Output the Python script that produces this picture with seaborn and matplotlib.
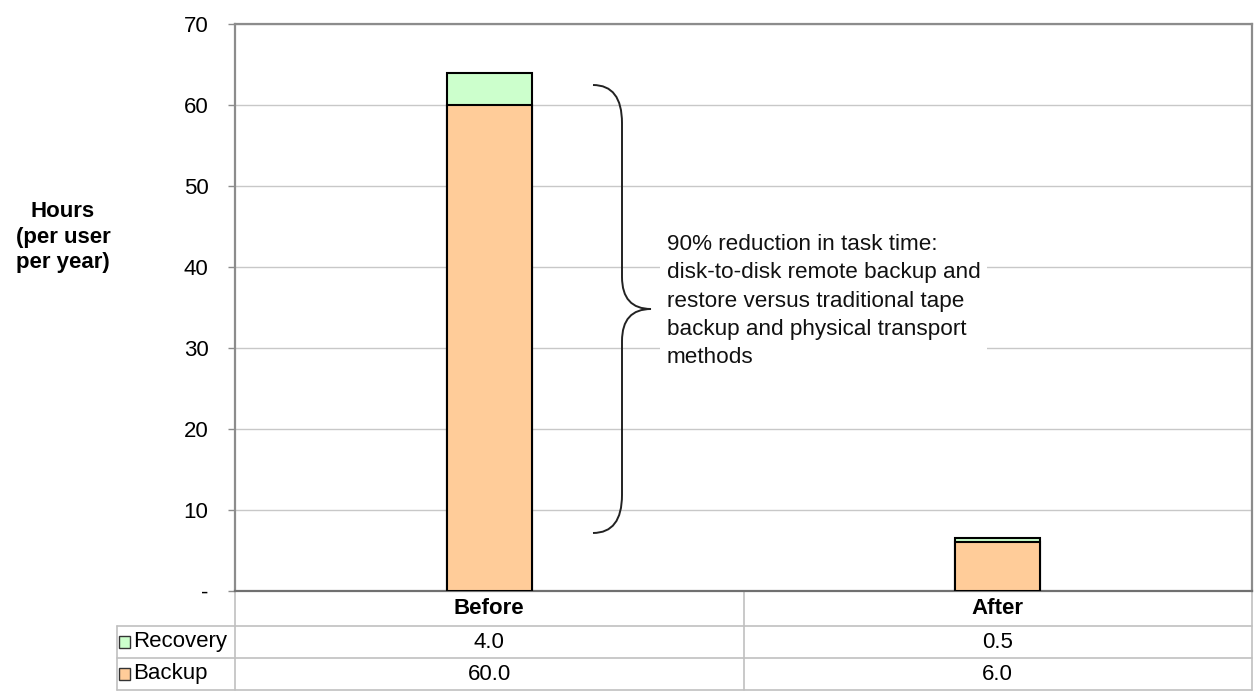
import matplotlib
matplotlib.use("Agg")
import matplotlib.pyplot as plt
from matplotlib.path import Path
from matplotlib.patches import PathPatch, Rectangle
import seaborn as sns

# Chart data
categories = ["Before", "After"]
series_names = ["Recovery", "Backup"]
recovery = [4.0, 0.5]
backup = [60.0, 6.0]
y_ticks = [0, 10, 20, 30, 40, 50, 60, 70]
y_tick_labels = ["-", "10", "20", "30", "40", "50", "60", "70"]
note = ("90% reduction in task time:\n"
        "disk-to-disk remote backup and\n"
        "restore versus traditional tape\n"
        "backup and physical transport\n"
        "methods")

COL_BACKUP = "#FFCC99"
COL_RECOVERY = "#CCFFCC"
GRID = "#c8c8c8"
FRAME = "#8c8c8c"
FS = 16

sns.set_theme(style="white")
plt.rcParams["font.family"] = ["Liberation Sans", "DejaVu Sans"]
plt.rcParams["text.color"] = "black"

W, H = 1255, 691
fig = plt.figure(figsize=(W / 100, H / 100), dpi=100)
L, R, T, B = 235, 1252, 24, 591
ax = fig.add_axes([L / W, 1 - B / H, (R - L) / W, (B - T) / H])

totals = [b + r for b, r in zip(backup, recovery)]
bar_w = 0.167
sns.barplot(x=categories, y=totals, color=COL_RECOVERY, width=bar_w,
            edgecolor="black", linewidth=1.5, saturation=1, ax=ax, zorder=3)
sns.barplot(x=categories, y=backup, color=COL_BACKUP, width=bar_w,
            edgecolor="black", linewidth=1.5, saturation=1, ax=ax, zorder=3)

ax.set_xlim(-0.5, len(categories) - 0.5)
ax.set_ylim(0, 70)
ax.set_yticks(y_ticks)
ax.set_yticklabels(y_tick_labels, fontsize=FS, color="black")
ax.set_xticks([])
ax.set_xlabel("")
ax.set_ylabel("")
ax.yaxis.grid(True, color=GRID, linewidth=1.0, zorder=0)
ax.set_axisbelow(True)
ax.tick_params(axis="y", which="both", left=True, length=5, width=1,
               color=FRAME, pad=14)
for side in ["left", "top", "right"]:
    ax.spines[side].set_color(FRAME)
    ax.spines[side].set_linewidth(1.6)
ax.spines["bottom"].set_color("#707070")
ax.spines["bottom"].set_linewidth(1.6)

# helpers: pixel -> axes fraction
def axx(px):
    return (px - L) / (R - L)

def axy(py):
    return (B - py) / (B - T)

# White panel behind the note (interrupts gridlines)
ax.add_patch(Rectangle((axx(660), axy(375)), axx(987) - axx(660),
                       axy(225) - axy(375), transform=ax.transAxes,
                       facecolor="white", edgecolor="none", zorder=1))
ax.text(axx(667), axy(301), note, transform=ax.transAxes, fontsize=16.2,
        ha="left", va="center", linespacing=1.45, color="#111111", zorder=4)

# Curly brace
pts = [(593, 85), (622, 85), (622, 123), (622, 277), (622, 309), (651, 309),
       (622, 309), (622, 341), (622, 495), (622, 533), (593, 533)]
codes = [Path.MOVETO, Path.CURVE3, Path.CURVE3, Path.LINETO,
         Path.CURVE3, Path.CURVE3, Path.CURVE3, Path.CURVE3,
         Path.LINETO, Path.CURVE3, Path.CURVE3]
brace = Path([(axx(x), axy(y)) for x, y in pts], codes)
ax.add_patch(PathPatch(brace, transform=ax.transAxes, facecolor="none",
                       edgecolor="#222222", linewidth=1.4, zorder=5))

# Y-axis title
fig.text(63 / W, 1 - 237 / H, "Hours\n(per user\nper year)", ha="center",
         va="center", fontsize=FS, fontweight="bold", linespacing=1.28,
         color="black")

# Data table under the plot
tbl_color = "#c0c0c0"
row_lines = [626, 658, 690]
left_edge = 117
n = len(categories)
col_edges = [axx(L) + i / n for i in range(n + 1)]
for y in row_lines:
    ax.plot([axx(left_edge), 1], [axy(y), axy(y)], color=tbl_color, lw=1.2,
            transform=ax.transAxes, clip_on=False)
for x in col_edges:
    ax.plot([x, x], [0, axy(690)], color=tbl_color, lw=1.2,
            transform=ax.transAxes, clip_on=False)
ax.plot([axx(left_edge)] * 2, [axy(626), axy(690)], color=tbl_color, lw=1.2,
        transform=ax.transAxes, clip_on=False)

for i, cat in enumerate(categories):
    cx = (i + 0.5) / n
    ax.text(cx, axy(609), cat, transform=ax.transAxes, ha="center",
            va="center", fontsize=FS, fontweight="bold", color="black")

rows = [(series_names[0], recovery, COL_RECOVERY, 642),
        (series_names[1], backup, COL_BACKUP, 674)]
for name, vals, col, yc in rows:
    ax.add_patch(Rectangle((axx(119), axy(yc + 6)), axx(130) - axx(119),
                           axy(yc - 6) - axy(yc + 6), transform=ax.transAxes,
                           facecolor=col, edgecolor="#333333", lw=1.0,
                           clip_on=False))
    ax.text(axx(133), axy(yc), name, transform=ax.transAxes, ha="left",
            va="center", fontsize=FS, color="black")
    for i, v in enumerate(vals):
        ax.text((i + 0.5) / n, axy(yc), f"{v:.1f}", transform=ax.transAxes,
                ha="center", va="center", fontsize=FS, color="black")

fig.savefig("out.png", dpi=100, facecolor="white")
